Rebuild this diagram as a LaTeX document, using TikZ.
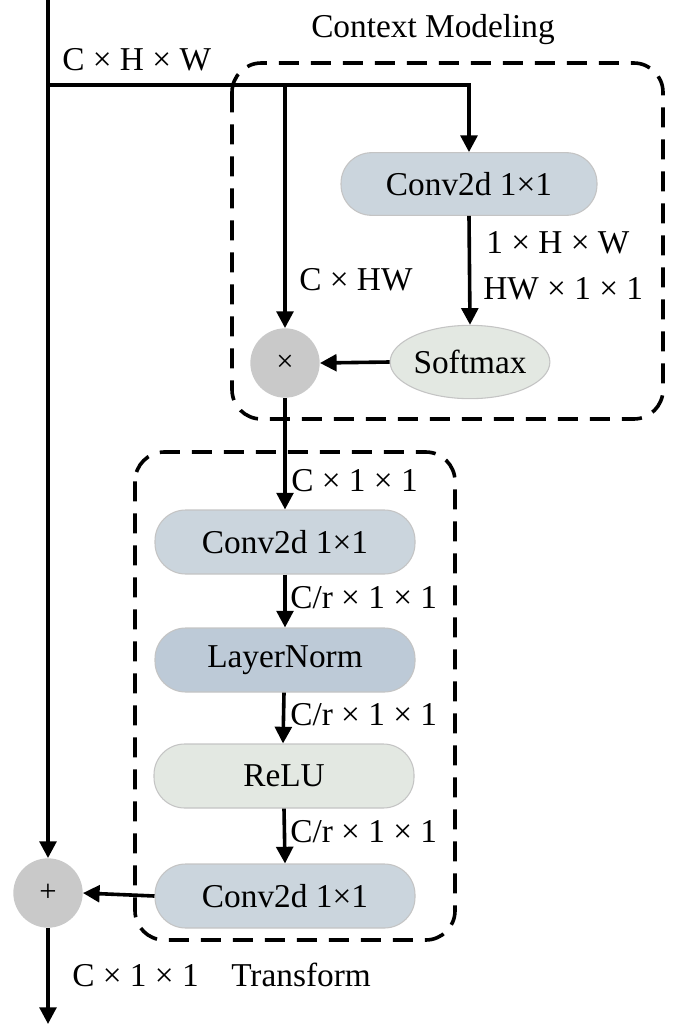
\documentclass[tikz,border=0pt]{standalone}
\usepackage{fontspec}
\setmainfont{Liberation Serif}
\usetikzlibrary{arrows.meta,shapes.geometric}
\definecolor{convfill}{HTML}{CBD5DD}
\definecolor{normfill}{HTML}{BDCAD7}
\definecolor{softfill}{HTML}{E3E8E2}
\definecolor{opfill}{HTML}{C9C9C9}
\definecolor{edgegray}{HTML}{C4C4C4}
\tikzset{
  blockbox/.style={draw=edgegray, line width=0.8pt, rounded corners=23pt,
    minimum width=195pt, minimum height=48pt, inner sep=0pt,
    font=\fontsize{25}{29}\selectfont},
  softbox/.style={ellipse, draw=edgegray, line width=0.8pt, fill=softfill,
    minimum width=113pt, minimum height=55pt, inner sep=0pt,
    font=\fontsize{25}{29}\selectfont},
  opnode/.style={circle, fill=opfill, minimum size=52pt, inner sep=0pt,
    font=\fontsize{23}{27}\selectfont},
  flow/.style={line width=2.7pt, -{Triangle[length=12.5pt,width=12.5pt]}},
  groupbox/.style={line width=2.7pt, dash pattern=on 15pt off 9pt, rounded corners=22pt},
  dimlabel/.style={anchor=base west, inner sep=0pt, font=\fontsize{25}{29}\selectfont},
  grouplabel/.style={anchor=base, inner sep=0pt, font=\fontsize{25}{29}\selectfont}
}
\begin{document}
\begin{tikzpicture}[x=0.75pt, y=-0.75pt]
\useasboundingbox (0,0) rectangle (681,1027);

% group frames
\draw[groupbox] (232,63) rectangle (663,419);
\draw[groupbox] (135,452) rectangle (455,940);

% context modelling branch
\node[blockbox, fill=convfill, minimum width=192pt, minimum height=47pt] (conva) at (469,184) {Conv2d 1×1};
\node[softbox] (soft) at (470,362) {Softmax};
\node[opnode] (mul) at (285,363) {×};

% transform branch
\node[blockbox, fill=convfill] (conv1) at (285,542) {Conv2d 1×1};
\node[blockbox, fill=normfill] (ln) at (285,660) {LayerNorm};
\node[blockbox, fill=softfill] (relu) at (284,776) {ReLU};
\node[blockbox, fill=convfill] (conv2) at (285,896) {Conv2d 1×1};
\node[opnode] (plus) at (48,893) {+};

% feature path
\coordinate (in) at (48,0);
\coordinate (split) at (48,85);
\coordinate (tap) at (285,85);
\coordinate (out) at (48,1024);

\draw[flow] (in) -- (plus.north);
\draw[flow] (split) -| (conva.north);
\draw[flow] (tap) -- (mul.north);
\draw[flow] (conva.south) -- (soft.north);
\draw[flow] (soft.west) -- (mul.east);
\draw[flow] (mul.south) -- (conv1.north);
\draw[flow] (conv1.south) -- (ln.north);
\draw[flow] ([xshift=-0.75pt]ln.south) -- ([xshift=-0.75pt]relu.north);
\draw[flow] (relu.south) -- (conv2.north);
\draw[flow] (conv2.west) -- (plus.east);
\draw[flow] (plus.south) -- (out);

% labels
\node[grouplabel] (cmtitle) at (433,38) {Context Modeling};
\node[dimlabel] (dimin) at (62,71) {C × H × W};
\node[dimlabel] (dima) at (486,253) {1 × H × W};
\node[dimlabel] (dimb) at (483,299) {HW × 1 × 1};
\node[dimlabel] (dimc) at (299,290) {C × HW};
\node[dimlabel] (dimd) at (291,491) {C × 1 × 1};
\node[dimlabel] (dime) at (290,608) {C/r × 1 × 1};
\node[dimlabel] (dimf) at (290,725) {C/r × 1 × 1};
\node[dimlabel] (dimg) at (290,842) {C/r × 1 × 1};
\node[dimlabel] (dimout) at (72,986) {C × 1 × 1};
\node[dimlabel] (trtitle) at (231,986) {Transform};
\end{tikzpicture}
\end{document}
